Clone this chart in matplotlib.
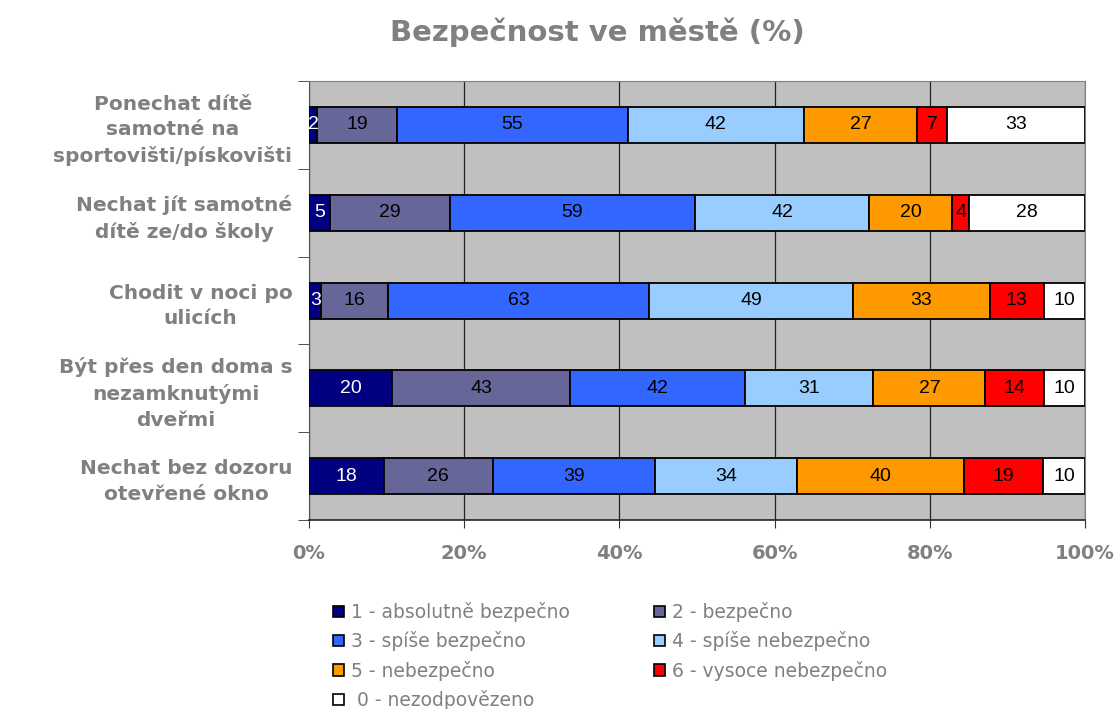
import matplotlib
matplotlib.use("Agg")
import matplotlib.pyplot as plt
from matplotlib.patches import Patch
import numpy as np

categories = [
    "Ponechat dítě\nsamotné na\nsportovišti/pískovišti",
    "Nechat jít samotné\ndítě ze/do školy",
    "Chodit v noci po\nulicích",
    "Být přes den doma s\nnezamknutými\ndveřmi",
    "Nechat bez dozoru\notevřené okno",
]
series_names = [
    "1 - absolutně bezpečno",
    "2 - bezpečno",
    "3 - spíše bezpečno",
    "4 - spíše nebezpečno",
    "5 - nebezpečno",
    "6 - vysoce nebezpečno",
    " 0 - nezodpovězeno",
]
s1 = [2, 5, 3, 20, 18]
s2 = [19, 29, 16, 43, 26]
s3 = [55, 59, 63, 42, 39]
s4 = [42, 42, 49, 31, 34]
s5 = [27, 20, 33, 27, 40]
s6 = [7, 4, 13, 14, 19]
s0 = [33, 28, 10, 10, 10]
colors = ["#000080", "#666699", "#3366FF", "#99CCFF", "#FF9900", "#FF0000", "#FFFFFF"]
text_colors = ["white", "black", "black", "black", "black", "black", "black"]
xtick_labels = ["0%", "20%", "40%", "60%", "80%", "100%"]

series = np.array([s1, s2, s3, s4, s5, s6, s0], dtype=float)
totals = series.sum(axis=0)
pct = series / totals * 100

fig = plt.figure(figsize=(11.2, 7.09), dpi=100)
ax = fig.add_axes([0.2759, 0.2666, 0.6929, 0.619])
ax.set_facecolor("#C0C0C0")

y = np.arange(len(categories))
left = np.zeros(len(categories))
for i in range(len(series)):
    ax.barh(y, pct[i], left=left, height=0.41, color=colors[i],
            edgecolor="black", linewidth=1.3, zorder=3)
    for j in range(len(categories)):
        ax.text(left[j] + pct[i][j] / 2, y[j], f"{int(series[i][j])}",
                ha="center", va="center", fontsize=14,
                family="Liberation Sans", color=text_colors[i], zorder=4)
    left += pct[i]

ax.set_xlim(0, 100)
ax.set_ylim(4.5, -0.5)
ax.set_xticks(np.arange(0, 101, 20))
ax.set_xticklabels(xtick_labels, fontsize=14, fontweight="bold", color="#808080")
ax.xaxis.grid(True, color="#222222", linewidth=0.9, zorder=1)
ax.set_axisbelow(True)

ax.set_yticks(y)
ax.set_yticklabels(categories, fontsize=14.5, fontweight="bold", color="#808080",
                   multialignment="center", linespacing=1.44)
ax.tick_params(axis="y", which="major", length=0, pad=12)
ax.set_yticks(np.arange(-0.5, 4.6, 1), minor=True)
ax.tick_params(axis="y", which="minor", length=8, color="#333333")
ax.tick_params(axis="x", which="major", length=6, color="#333333", pad=11)

for side in ["top", "right"]:
    ax.spines[side].set_color("#808080")
ax.spines["left"].set_color("#555555")
ax.spines["bottom"].set_color("#222222")
ax.spines["bottom"].set_linewidth(1.2)

fig.text(0.533, 0.955, "Bezpečnost ve městě (%)", ha="center", va="center",
         fontsize=21, fontweight="bold", color="#808080")

handles = [Patch(facecolor=colors[i], edgecolor="black", linewidth=1.2, label=series_names[i])
           for i in range(len(series_names))]
order = [0, 2, 4, 6, 1, 3, 5]
leg = fig.legend([handles[k] for k in order], [series_names[k] for k in order],
                 ncol=2, loc="upper left", bbox_to_anchor=(0.2975, 0.151),
                 frameon=False, fontsize=13.5, handlelength=0.55, handleheight=0.55,
                 handletextpad=0.4, columnspacing=4.5, labelspacing=0.5,
                 borderaxespad=0, borderpad=0)
for t in leg.get_texts():
    t.set_color("#808080")

fig.savefig("out.png", dpi=100)
